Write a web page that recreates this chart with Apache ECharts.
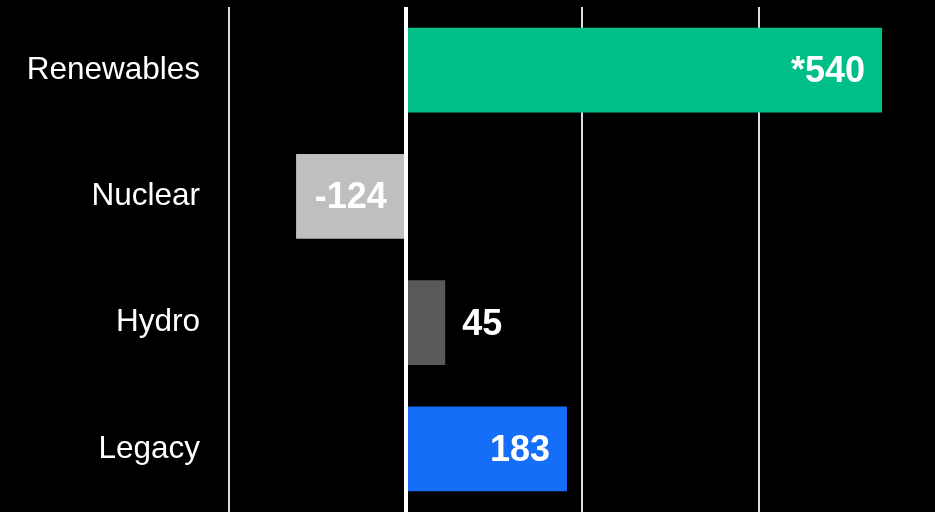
<!DOCTYPE html>
<html>
<head>
<meta charset="utf-8">
<script src="https://cdn.jsdelivr.net/npm/echarts@6/dist/echarts.min.js"></script>
<style>
html,body{margin:0;padding:0;background:#000;}
#c{width:935px;height:512px;}
</style>
</head>
<body>
<div id="c"></div>
<script>
var categories = ['Renewables', 'Nuclear', 'Hydro', 'Legacy'];
var values = [540, -124, 45, 183];
var valueLabels = ['*540', '-124', '45', '183'];
var axisTicks = [-200, 0, 200, 400, 600];

var barColors = ['#00BE87', '#BFBFBF', '#595959', '#156EF8'];
var labelPos = ['insideRight', 'inside', 'right', 'insideRight'];

var chart = echarts.init(document.getElementById('c'));
var dataItems = values.map(function (v, i) {
  return {
    value: v,
    itemStyle: { color: barColors[i] },
    label: {
      show: true,
      position: labelPos[i],
      distance: labelPos[i] === 'inside' ? 0 : 17,
      formatter: valueLabels[i]
    }
  };
});

chart.setOption({
  backgroundColor: '#000000',
  animation: false,
  grid: { left: 229, right: 0, top: 7, bottom: 0, containLabel: false },
  xAxis: {
    type: 'value',
    min: axisTicks[0],
    max: axisTicks[axisTicks.length - 1],
    interval: 200,
    axisLabel: { show: false },
    axisLine: { show: false },
    axisTick: { show: false },
    splitLine: {
      show: true,
      showMaxLine: false,
      lineStyle: { color: '#D6DDEA', width: 2 }
    }
  },
  yAxis: {
    type: 'category',
    data: categories,
    inverse: true,
    axisLine: { show: false, onZero: false },
    axisTick: { show: false },
    axisLabel: {
      color: '#FFFFFF',
      fontSize: 31.5,
      fontFamily: 'Liberation Sans, Arial, sans-serif',
      margin: 29
    }
  },
  series: [{
    type: 'bar',
    data: dataItems,
    barWidth: '67%',
    label: {
      color: '#FFFFFF',
      fontSize: 36,
      fontWeight: 'bold',
      fontFamily: 'Liberation Sans, Arial, sans-serif',
      offset: [0, 2]
    },
    markLine: {
      silent: true,
      symbol: 'none',
      label: { show: false },
      lineStyle: { color: '#FFFFFF', width: 4, type: 'solid' },
      data: [{ xAxis: 0 }]
    }
  }]
});
</script>
</body>
</html>
